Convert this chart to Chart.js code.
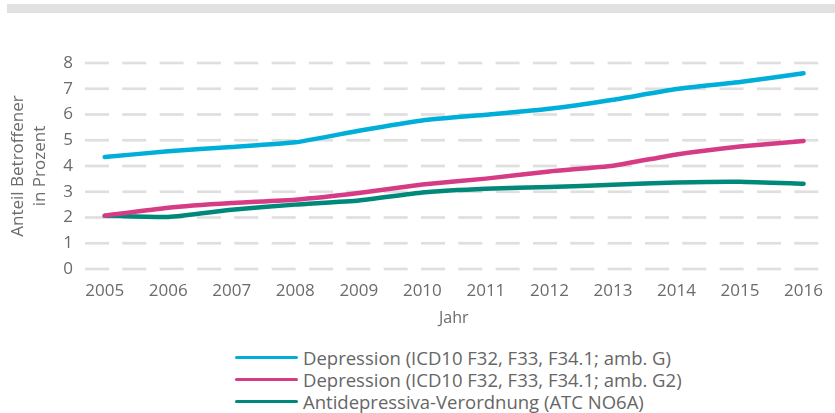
<!DOCTYPE html>
<html>
<head>
<meta charset="utf-8">
<script src="https://cdn.jsdelivr.net/npm/chart.js@4"></script>
<style>
    body { margin: 0; background: #fff; font-family: "Open Sans", sans-serif; }
    #wrap { position: relative; width: 835px; height: 413px; overflow: hidden; }
    #topbar { position: absolute; left: 7px; top: 4px; width: 828px; height: 9px; background: #e1e1e1; }
    #chartBox { position: absolute; left: 0; top: 0; width: 835px; height: 335px; }
    #legend { position: absolute; left: 235px; top: 346px; }
    .legend-item { display: flex; align-items: center; height: 22px; font-size: 18.5px; color: #666; white-space: nowrap; }
    .legend-line { width: 63px; height: 3px; border-radius: 2px; margin-right: 5px; }
</style>
</head>
<body>
<div id="wrap">
    <div id="topbar"></div>
    <div id="chartBox"><canvas id="depChart"></canvas></div>
    <div id="legend"></div>
</div>
<script>
// Data
const years = [2005, 2006, 2007, 2008, 2009, 2010, 2011, 2012, 2013, 2014, 2015, 2016];
const depressionG = [4.35, 4.57, 4.74, 4.92, 5.37, 5.77, 5.99, 6.22, 6.57, 6.99, 7.26, 7.6];
const depressionG2 = [2.07, 2.38, 2.56, 2.69, 2.95, 3.28, 3.51, 3.79, 4.01, 4.45, 4.76, 4.97];
const antidepressiva = [2.07, 2.02, 2.3, 2.5, 2.66, 2.97, 3.12, 3.18, 3.27, 3.36, 3.39, 3.31];
const seriesLabels = [
    'Depression (ICD10 F32, F33, F34.1; amb. G)',
    'Depression (ICD10 F32, F33, F34.1; amb. G2)',
    'Antidepressiva-Verordnung (ATC NO6A)'
];
const seriesColors = ['#00afd9', '#d63b85', '#00897a'];
const yTicks = [0, 1, 2, 3, 4, 5, 6, 7, 8];

const textColor = '#6b6b6b';
const fontFamily = '"Open Sans", sans-serif';

function toPoints(values) {
    return years.map((year, i) => ({ x: year, y: values[i] }));
}

const allSeries = [depressionG, depressionG2, antidepressiva];

const datasets = allSeries.map((values, i) => ({
    label: seriesLabels[i],
    data: toPoints(values),
    borderColor: seriesColors[i],
    backgroundColor: seriesColors[i],
    borderWidth: 4.5,
    borderCapStyle: 'round',
    borderJoinStyle: 'round',
    pointRadius: 0,
    tension: 0.15,
    fill: false,
    order: i
}));

// dashed horizontal grid lines, placed on the y scale ticks
const dashedGrid = {
    id: 'dashedGrid',
    beforeDatasetsDraw(chart) {
        const c = chart.ctx;
        const area = chart.chartArea;
        const yScale = chart.scales.y;
        const dash = 24, period = 37.33, thick = 2.7;
        c.save();
        c.fillStyle = '#dfdfdf';
        yScale.ticks.forEach(t => {
            const y = yScale.getPixelForValue(t.value);
            for (let x = area.left; x < area.right; x += period) {
                c.fillRect(x, y - thick / 2, Math.min(dash, area.right - x), thick);
            }
        });
        c.restore();
    }
};

const ctx = document.getElementById('depChart').getContext('2d');

const depChart = new Chart(ctx, {
    type: 'line',
    data: { datasets: datasets },
    plugins: [dashedGrid],
    options: {
        responsive: true,
        maintainAspectRatio: false,
        animation: false,
        layout: { padding: { top: 63, right: 0, bottom: 0, left: 0 } },
        plugins: {
            legend: { display: false },
            tooltip: { enabled: false }
        },
        scales: {
            x: {
                type: 'linear',
                min: 2004.69,
                max: 2016.3,
                afterBuildTicks: function(scale) {
                    scale.ticks = years.map(y => ({ value: y }));
                },
                afterFit: function(scale) { scale.height = 66; },
                grid: { display: false, drawTicks: false },
                border: { display: false },
                ticks: {
                    color: textColor,
                    font: { family: fontFamily, size: 17 },
                    padding: 12,
                    maxRotation: 0,
                    autoSkip: false,
                    callback: v => String(v)
                },
                title: {
                    display: true,
                    text: 'Jahr',
                    color: textColor,
                    font: { family: fontFamily, size: 16 },
                    padding: { top: 0, bottom: 7 }
                }
            },
            y: {
                min: 0,
                max: 8,
                afterBuildTicks: function(scale) {
                    scale.ticks = yTicks.map(v => ({ value: v }));
                },
                afterFit: function(scale) { scale.width = 85; },
                grid: { display: false, drawTicks: false },
                border: { display: false },
                ticks: {
                    color: textColor,
                    font: { family: fontFamily, size: 17 },
                    padding: 12
                },
                title: {
                    display: true,
                    text: ['Anteil Betroffener', 'in Prozent'],
                    color: textColor,
                    font: { family: fontFamily, size: 17, lineHeight: 1.3 },
                    padding: { top: 7, bottom: 0 }
                }
            }
        }
    }
});

// legend built from the same arrays
const legendBox = document.getElementById('legend');
seriesLabels.forEach((label, i) => {
    const item = document.createElement('div');
    item.className = 'legend-item';
    const line = document.createElement('span');
    line.className = 'legend-line';
    line.style.background = seriesColors[i];
    const text = document.createElement('span');
    text.textContent = label;
    item.appendChild(line);
    item.appendChild(text);
    legendBox.appendChild(item);
});
</script>
</body>
</html>
